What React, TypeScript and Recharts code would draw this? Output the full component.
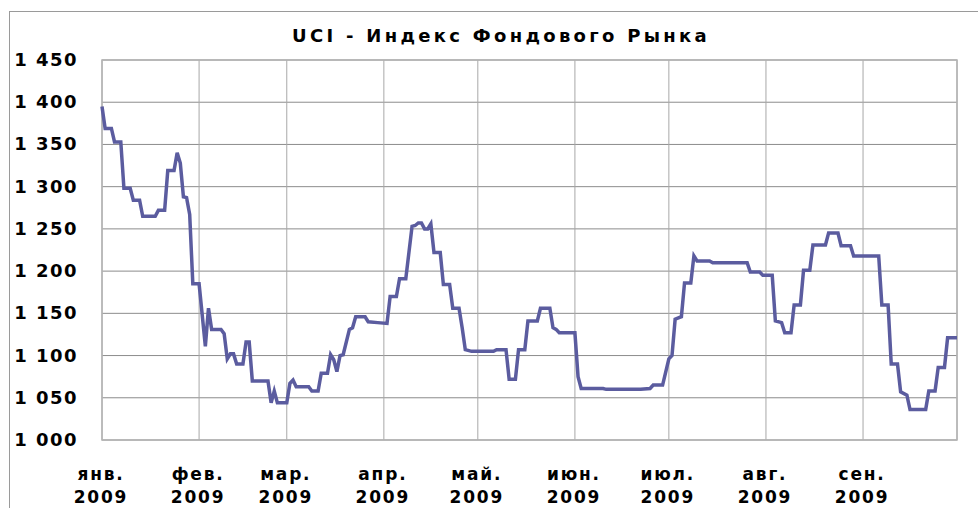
import React from 'react';
import {
  LineChart,
  Line,
  XAxis,
  YAxis,
  CartesianGrid,
  ReferenceArea
} from 'recharts';

// day offsets from 1 Jan 2009 and index values
const dayIndex = [
  0, 1, 3, 4, 6, 7, 9, 10, 12, 13, 17, 18, 20, 21, 23, 24, 25, 26, 27, 28, 29, 31,
  33, 34, 35, 38, 39, 40, 41, 42, 43, 45, 46, 47, 48, 53, 54, 55, 56, 59, 60, 61,
  62, 66, 67, 69, 70, 72, 73, 74, 75, 76, 77, 79, 80, 81, 84, 85, 88, 91, 92, 94,
  95, 97, 99, 100, 101, 102, 103, 104, 105, 106, 108, 109, 111, 112, 114, 115, 116,
  118, 125, 126, 129, 130, 132, 133, 135, 136, 139, 140, 143, 144, 145, 146, 151,
  152, 153, 160, 161, 172, 175, 176, 179, 181, 182, 183, 185, 186, 188, 189, 190,
  194, 195, 206, 207, 210, 211, 214, 215, 217, 218, 220, 221, 223, 224, 226, 227,
  231, 232, 235, 236, 239, 240, 248, 249, 251, 252, 254, 255, 257, 258, 263, 264,
  266, 267, 269, 270, 273
];

const uciValues = [
  1395, 1369, 1369, 1353, 1353, 1298, 1298, 1284, 1284, 1265, 1265, 1272, 1272, 1319,
  1319, 1340, 1328, 1288, 1287, 1267, 1185, 1185,
  1111, 1156, 1131, 1131, 1126, 1096, 1102, 1102, 1090, 1090, 1116, 1116, 1070, 1070,
  1044, 1058, 1044, 1044, 1067, 1071,
  1063, 1063, 1058, 1058, 1079, 1079, 1101, 1095, 1081, 1100, 1101, 1131, 1133, 1146,
  1146, 1140, 1139, 1138, 1170, 1170,
  1191, 1191, 1253, 1254, 1257, 1257, 1250, 1250, 1256, 1222, 1222, 1184, 1184, 1156,
  1156, 1133, 1107,
  1105, 1105, 1107, 1107, 1072, 1072, 1107, 1107, 1141, 1141, 1156, 1156, 1133, 1131,
  1127, 1127,
  1075, 1061, 1061, 1060, 1060, 1061, 1065, 1065, 1096, 1100, 1143, 1146, 1186, 1186,
  1218, 1212,
  1212, 1210, 1210, 1199, 1199, 1195, 1195, 1141, 1139, 1127, 1127, 1160, 1160, 1201,
  1201, 1231,
  1231, 1245, 1245, 1230, 1230, 1218, 1218, 1160, 1160, 1090, 1090, 1057, 1053, 1036,
  1036, 1058,
  1058, 1086, 1086, 1121, 1121
];

const monthTicks = [0, 31, 59, 90, 120, 151, 181, 212, 243];
const monthLabels = ['янв.', 'фев.', 'мар.', 'апр.', 'май.', 'июн.', 'июл.', 'авг.', 'сен.'];
const yearLabel = '2009';
const yTicks = [1000, 1050, 1100, 1150, 1200, 1250, 1300, 1350, 1400, 1450];

const data = dayIndex.map((d, i) => ({ day: d, uci: uciValues[i] }));

const FONT = '"DejaVu Sans", Verdana, sans-serif';

const fmtThousands = (v: number) =>
  `${Math.floor(v / 1000)} ${String(v % 1000).padStart(3, '0')}`;

const YTick = (props: any) => {
  const { y, payload } = props;
  return (
    <text
      x={78}
      y={y}
      dy={6}
      textAnchor="end"
      fontFamily={FONT}
      fontWeight="bold"
      fontSize={18}
      letterSpacing={1.5}
      fill="#000"
    >
      {fmtThousands(payload.value)}
    </text>
  );
};

const XTick = (props: any) => {
  const { x, payload } = props;
  const idx = monthTicks.indexOf(payload.value);
  return (
    <text
      x={x - 1}
      textAnchor="middle"
      fontFamily={FONT}
      fontWeight="bold"
      fontSize={17}
      letterSpacing={1.8}
      fill="#000"
    >
      <tspan x={x - 1} y={480}>{monthLabels[idx]}</tspan>
      <tspan x={x - 1} y={503}>{yearLabel}</tspan>
    </text>
  );
};

export default function App() {
  return (
    <div style={{ position: 'absolute', left: 0, top: 0, width: 978, height: 508, background: '#fff', overflow: 'hidden' }}>
      {/* outer chart frame, only top and left edges fall inside the picture */}
      <div
        style={{
          position: 'absolute',
          left: 9,
          top: 11,
          width: 1000,
          height: 520,
          borderTop: '1px solid #9a9a9a',
          borderLeft: '1px solid #9a9a9a'
        }}
      />
      <div
        style={{
          position: 'absolute',
          left: 0,
          width: 1000,
          top: 25,
          fontFamily: FONT,
          fontWeight: 'bold',
          fontSize: 18,
          letterSpacing: 3.3
        }}
      >
        <span style={{ position: 'absolute', left: 501, transform: 'translateX(-50%)', whiteSpace: 'nowrap' }}>
          UCI - Индекс Фондового Рынка
        </span>
      </div>
      <div style={{ position: 'absolute', left: 0, top: 0 }}>
        <LineChart
          width={978}
          height={508}
          data={data}
          margin={{ top: 60, right: 21, left: 0, bottom: 0 }}
        >
          <CartesianGrid horizontal vertical={false} stroke="#8c8c8c" />
          <CartesianGrid horizontal={false} vertical stroke="#a8a8a8" />
          <XAxis
            dataKey="day"
            type="number"
            domain={[0, 273]}
            ticks={monthTicks}
            interval={0}
            height={68}
            axisLine={false}
            tickLine={false}
            tick={<XTick />}
          />
          <YAxis
            domain={[1000, 1450]}
            ticks={yTicks}
            interval={0}
            width={102}
            axisLine={false}
            tickLine={false}
            tick={<YTick />}
          />
          <ReferenceArea
            x1={0}
            x2={273}
            y1={1000}
            y2={1450}
            fill="none"
            stroke="#b4b4b4"
            strokeWidth={1.5}
            ifOverflow="visible"
          />
          <Line
            type="linear"
            dataKey="uci"
            stroke="#5b5c9f"
            strokeWidth={3.5}
            dot={false}
            isAnimationActive={false}
          />
        </LineChart>
      </div>
    </div>
  );
}
